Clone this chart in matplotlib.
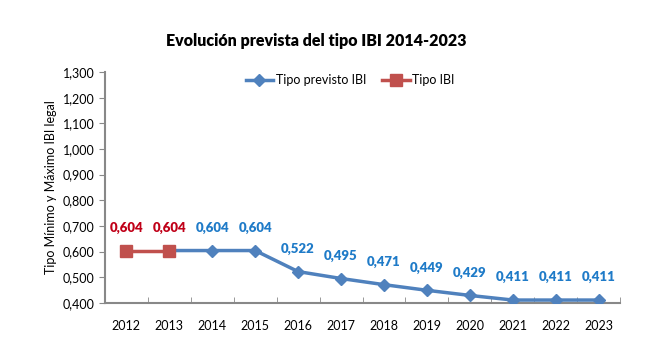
import matplotlib
matplotlib.use('Agg')
from matplotlib import pyplot as plt
import numpy as np

years = ['2012', '2013', '2014', '2015', '2016', '2017', '2018', '2019', '2020', '2021', '2022', '2023']
tipo_ibi = [0.604, 0.604]
tipo_previsto = [0.604, 0.604, 0.604, 0.522, 0.495, 0.471, 0.449, 0.429, 0.411, 0.411, 0.411]
yticks = [0.4, 0.5, 0.6, 0.7, 0.8, 0.9, 1.0, 1.1, 1.2, 1.3]

plt.rcParams['font.family'] = ['Lato', 'DejaVu Sans']
blue = '#4F81BD'
red = '#C0504D'
blue_txt = '#1F7BC8'
red_txt = '#C00018'

fig = plt.figure(figsize=(6.72, 3.53), dpi=100)
ax = fig.add_axes([0.156, 0.142, 0.767, 0.654])

x = np.arange(len(years))
xp = x[1:]
xr = x[:2]
ax.plot(xp, tipo_previsto, color=blue, lw=2.5, marker='D', ms=6.5, label='Tipo previsto IBI', zorder=3)
ax.plot(xr, tipo_ibi, color=red, lw=2.5, marker='s', ms=8, label='Tipo IBI', zorder=4)

for xi, v in zip(xp[1:], tipo_previsto[1:]):
    ax.annotate('{:.3f}'.format(v).replace('.', ','), (xi, v), xytext=(0, 12), textcoords='offset points',
                ha='center', va='bottom', color=blue_txt, fontsize=9.5, fontweight='heavy')
for xi, v in zip(xr, tipo_ibi):
    ax.annotate('{:.3f}'.format(v).replace('.', ','), (xi, v), xytext=(0, 12), textcoords='offset points',
                ha='center', va='bottom', color=red_txt, fontsize=9.5, fontweight='heavy')

ax.set_xlim(-0.5, len(years) - 0.5)
ax.set_ylim(0.4, 1.3)
ax.set_yticks(yticks)
ax.set_yticklabels(['{:.3f}'.format(t).replace('.', ',') for t in yticks], fontsize=9)
ax.set_xticks(x)
ax.set_xticklabels(years, fontsize=9)
ax.tick_params(axis='x', length=0, pad=12)
ax.set_xticks(np.arange(-0.5, len(years)), minor=True)
ax.tick_params(axis='x', which='minor', length=4, direction='in', color='#888888')
ax.tick_params(axis='y', length=4, direction='out', color='#888888')
for s in ['top', 'right']:
    ax.spines[s].set_visible(False)
for s in ['left', 'bottom']:
    ax.spines[s].set_color('#888888')
    ax.spines[s].set_linewidth(1.5)

ax.set_ylabel('Tipo Mínimo y Máximo IBI legal', fontsize=9)
fig.text(0.47, 0.87, 'Evolución prevista del tipo IBI 2014-2023', ha='center', fontsize=11.5, fontweight='heavy')

ax.legend(loc='upper center', bbox_to_anchor=(0.476, 1.04), ncol=2, frameon=False, fontsize=9,
          handlelength=2.2, columnspacing=1.3, handletextpad=0.2)

fig.savefig('out.png', dpi=100)
